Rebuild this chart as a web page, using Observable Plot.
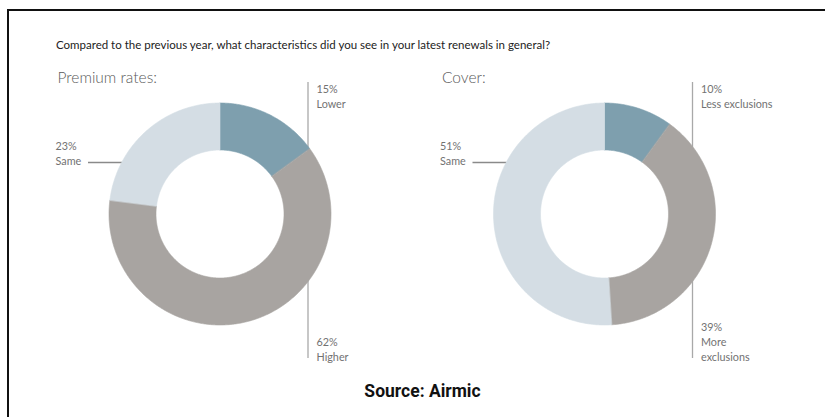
<!DOCTYPE html>
<html>
<head>
<meta charset="utf-8">
<script src="https://cdn.jsdelivr.net/npm/d3@7"></script>
<script src="https://cdn.jsdelivr.net/npm/@observablehq/plot@0.6"></script>
<style>
  html, body { margin: 0; padding: 0; background: #fff; overflow: hidden; }
  #page { position: relative; width: 825px; height: 417px; overflow: hidden; font-family: Lato, "Open Sans", sans-serif; }
  #frame { position: absolute; left: 7px; top: 9px; width: 900px; height: 500px; border-top: 2px solid #111; border-left: 2px solid #111; z-index: 5; pointer-events: none; }
  #title { position: absolute; left: 56px; top: 38px; font-size: 11.5px; color: #222; white-space: nowrap; font-family: Lato, sans-serif; }
  #chart { position: absolute; left: 0; top: 60px; }
  #source { position: absolute; left: 0; width: 845px; top: 381px; text-align: center; font-family: Roboto, sans-serif; font-weight: 700; font-size: 17.5px; color: #111; }
</style>
</head>
<body>
<div id="page">
  <div id="frame"></div>
  <div id="title"></div>
  <div id="chart"></div>
  <div id="source"></div>
</div>
<script>
// ---- data ----
const titleText = "Compared to the previous year, what characteristics did you see in your latest renewals in general?";
const sourceText = "Source: Airmic";
const chartNames = ["Premium rates:", "Cover:"];
const premiumLabels = ["Lower", "Higher", "Same"];
const premiumValues = [15, 62, 23];
const coverLabels = ["Less exclusions", "More\nexclusions", "Same"];
const coverValues = [10, 39, 51];
const sliceColors = ["#7e9fae", "#a8a4a1", "#d4dde4"];

// ---- layout ----
const W = 825, H = 310;
const centers = [220, 604.5];
const cy = 154;
const R = 111, r0 = 64;

document.getElementById("title").textContent = titleText;
document.getElementById("source").textContent = sourceText;

const series = [
  {name: chartNames[0], labels: premiumLabels, values: premiumValues},
  {name: chartNames[1], labels: coverLabels, values: coverValues}
];

const rows = [];
const labelRows = [];
const vRules = [];
const hRules = [];
const titles = [];
series.forEach((s, ci) => {
  const cx = centers[ci];
  const arcs = d3.pie().sort(null)(s.values);
  arcs.forEach((a, i) => {
    const n = Math.max(2, Math.ceil((a.endAngle - a.startAngle) / 0.01));
    for (let k = 0; k <= n; k++) {
      const t = a.startAngle + (a.endAngle - a.startAngle) * k / n;
      rows.push({
        key: ci + "-" + i,
        color: sliceColors[i],
        x1: cx + R * Math.sin(t), y1: cy - R * Math.cos(t),
        x2: cx + r0 * Math.sin(t), y2: cy - r0 * Math.cos(t)
      });
    }
    const text = s.values[i] + "%\n" + s.labels[i];
    if (i === 0) labelRows.push({x: cx + 96, y: cy - 132, text, anchor: "top"});
    else if (i === 1) labelRows.push({x: cx + 96, y: cy + 146, text, anchor: "bottom"});
    else labelRows.push({x: cx - 165, y: cy - 75, text, anchor: "top"});
  });
  vRules.push({x: cx + 87.5, y1: cy - 132, y2: cy + 144});
  hRules.push({y: cy - 52, x1: cx - 132, x2: cx - 98});
  titles.push({x: cx - 163, y: 18, text: s.name});
});

const plot = Plot.plot({
  width: W, height: H,
  margin: 0,
  style: {background: "none", overflow: "visible"},
  x: {domain: [0, W], range: [0, W], axis: null},
  y: {domain: [0, H], range: [0, H], axis: null},
  color: {type: "identity"},
  marks: [
    Plot.ruleX(vRules, {x: "x", y1: "y1", y2: "y2", stroke: "#a9a9a9", strokeWidth: 1.3}),
    Plot.ruleY(hRules, {y: "y", x1: "x1", x2: "x2", stroke: "#8a8a8a", strokeWidth: 1.3}),
    Plot.area(rows, {x1: "x1", y1: "y1", x2: "x2", y2: "y2", z: "key", fill: "color", stroke: "color", strokeWidth: 0.6}),
    Plot.text(titles, {x: "x", y: "y", text: "text", textAnchor: "start", fontSize: 15.5, fontWeight: 300, fill: "#5a5a5a", fontFamily: "Lato"}),
    Plot.text(labelRows.filter(d => d.anchor === "top"), {x: "x", y: "y", text: "text", textAnchor: "start", lineAnchor: "top", lineHeight: 1.38, fontSize: 10.8, fill: "#727272", fontFamily: "Lato"}),
    Plot.text(labelRows.filter(d => d.anchor === "bottom"), {x: "x", y: "y", text: "text", textAnchor: "start", lineAnchor: "bottom", lineHeight: 1.38, fontSize: 10.8, fill: "#727272", fontFamily: "Lato"})
  ]
});
document.getElementById("chart").appendChild(plot);
</script>
</body>
</html>
